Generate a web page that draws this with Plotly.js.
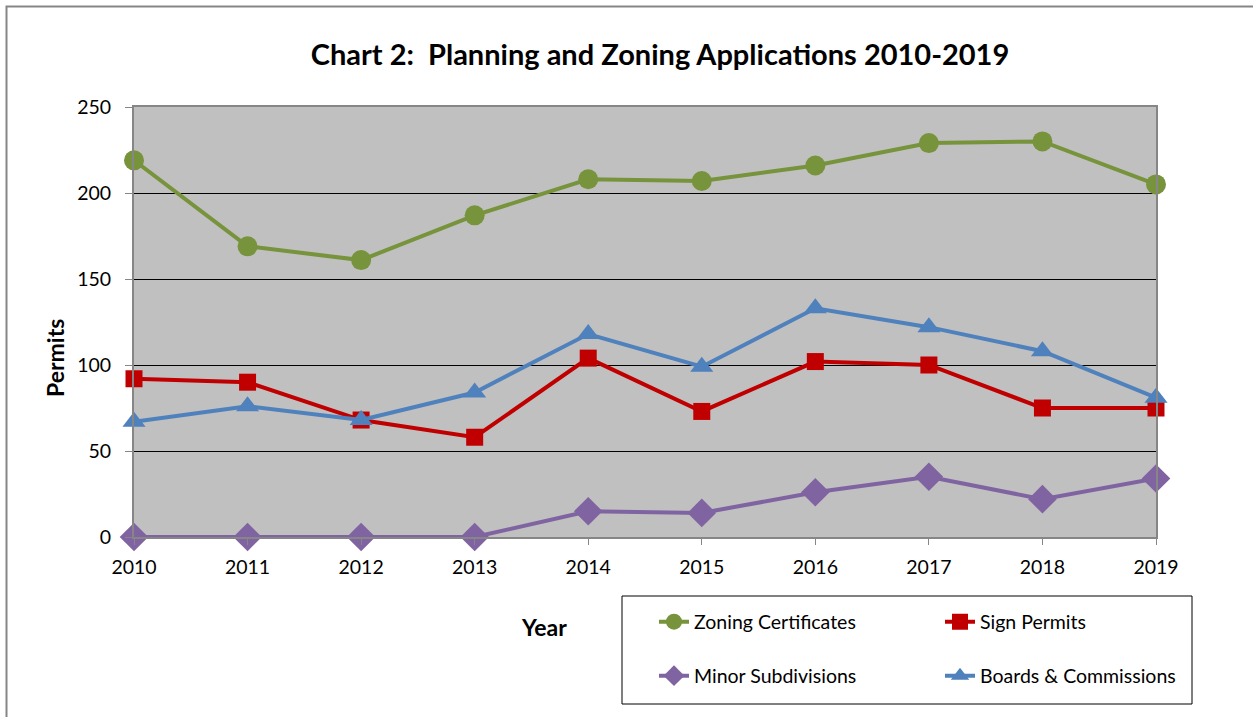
<!DOCTYPE html>
<html>
<head>
<meta charset="utf-8">
<script src="https://cdn.plot.ly/plotly-3.0.1.min.js"></script>
<style>html,body{margin:0;padding:0;background:#fff;}#chart{width:1253px;height:717px;}</style>
</head>
<body>
<div id="chart"></div>
<script>
const years = [2010, 2011, 2012, 2013, 2014, 2015, 2016, 2017, 2018, 2019];
const zoningCertificates = [219, 169, 161, 187, 208, 207, 216, 229, 230, 205];
const signPermits = [92, 90, 68, 58, 104, 73, 102, 100, 75, 75];
const minorSubdivisions = [0, 0, 0, 0, 15, 14, 26, 35, 22, 34];
const boardsCommissions = [67, 76, 68, 84, 118, 99, 133, 122, 108, 81];
const yTicks = [0, 50, 100, 150, 200, 250];

const FONT = 'Lato, "Open Sans", sans-serif';

function mk(name, y, color, symbol, size, legend) {
  return {
    x: years, y: y, name: name, type: 'scatter', mode: 'lines+markers',
    line: {color: color, width: 4},
    marker: {color: color, symbol: symbol, size: size},
    cliponaxis: false,
    legend: legend
  };
}

const data = [
  mk('Zoning Certificates', zoningCertificates, '#77933C', 'circle', 20, 'legend'),
  mk('Sign Permits', signPermits, '#C00000', 'square', 17, 'legend'),
  mk('Minor Subdivisions', minorSubdivisions, '#8064A2', 'diamond', 22, 'legend2'),
  mk('Boards & Commissions', boardsCommissions, '#4F81BD', 'triangle-up', 20, 'legend2')
];

const L = 134, R = 1156, T = 107, B = 537;
const W = R - L, H = B - T;
function px(x) { return (x - L) / W; }
function py(y) { return (B - y) / H; }

const legendCommon = {
  orientation: 'h', xref: 'paper', yref: 'paper', xanchor: 'left', yanchor: 'middle',
  bgcolor: 'rgba(0,0,0,0)', borderwidth: 0,
  font: {family: FONT, size: 19.5, color: '#000'},
  entrywidth: 241, entrywidthmode: 'pixels', itemwidth: 30, tracegroupgap: 0
};

const layout = {
  width: 1253, height: 717,
  margin: {l: L, r: 1253 - R, t: T, b: 717 - B, autoexpand: false},
  paper_bgcolor: '#ffffff',
  plot_bgcolor: '#C0C0C0',
  font: {family: FONT, size: 19.5, color: '#000'},
  title: {
    text: '<b>Chart 2:  Planning and Zoning Applications 2010-2019</b>',
    font: {family: FONT, size: 29, color: '#000'},
    xref: 'paper', x: px(660), xanchor: 'center',
    yref: 'container', y: 1 - 55 / 717, yanchor: 'middle'
  },
  xaxis: {
    range: [2010, 2019], tickmode: 'array', tickvals: years, ticktext: years.map(String),
    showgrid: false, zeroline: false, automargin: false,
    showline: true, linecolor: '#868686', linewidth: 2, mirror: true,
    ticks: 'outside', ticklen: 6, tickcolor: '#868686', tickwidth: 1,
    ticklabelstandoff: 6,
    tickfont: {family: FONT, size: 19.5, color: '#000'}
  },
  yaxis: {
    range: [0, 250], tickmode: 'array', tickvals: yTicks, automargin: false,
    showgrid: true, gridcolor: '#000000', gridwidth: 1, zeroline: false,
    showline: true, linecolor: '#868686', linewidth: 2, mirror: true,
    ticks: 'outside', ticklen: 7, tickcolor: '#868686', tickwidth: 1,
    ticklabelstandoff: 10,
    tickfont: {family: FONT, size: 19.5, color: '#000'}
  },
  legend: Object.assign({}, legendCommon, {x: px(654), y: py(622)}),
  legend2: Object.assign({}, legendCommon, {x: px(654), y: py(676)}),
  annotations: [
    {text: '<b>Year</b>', xref: 'paper', yref: 'paper', x: px(544), y: py(627),
     xanchor: 'center', yanchor: 'middle', showarrow: false,
     font: {family: FONT, size: 23, color: '#000'}},
    {text: '<b>Permits</b>', xref: 'paper', yref: 'paper', x: px(55), y: py(358),
     xanchor: 'center', yanchor: 'middle', showarrow: false, textangle: -90,
     font: {family: FONT, size: 23, color: '#000'}}
  ],
  shapes: [
    {type: 'rect', xref: 'paper', yref: 'paper', x0: px(622), x1: px(1192), y0: py(596), y1: py(704),
     line: {color: '#000', width: 1}, fillcolor: 'rgba(0,0,0,0)', layer: 'below'},
    {type: 'rect', xref: 'paper', yref: 'paper', x0: px(6.5), x1: px(1260), y0: py(6.5), y1: py(730),
     line: {color: '#868686', width: 2}, fillcolor: 'rgba(0,0,0,0)', layer: 'below'}
  ],
  showlegend: true
};

Plotly.newPlot('chart', data, layout, {displayModeBar: false, staticPlot: true});
</script>
</body>
</html>
